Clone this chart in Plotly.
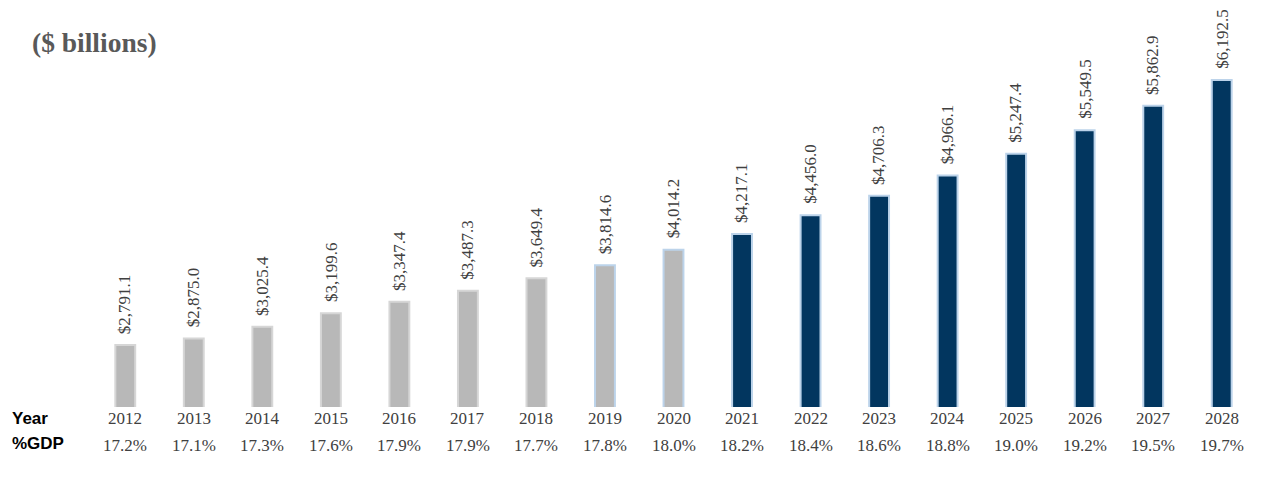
import plotly.graph_objects as go

years = ["2012", "2013", "2014", "2015", "2016", "2017", "2018", "2019", "2020",
         "2021", "2022", "2023", "2024", "2025", "2026", "2027", "2028"]
spending = [2791.1, 2875.0, 3025.4, 3199.6, 3347.4, 3487.3, 3649.4, 3814.6, 4014.2,
            4217.1, 4456.0, 4706.3, 4966.1, 5247.4, 5549.5, 5862.9, 6192.5]
pct_gdp = ["17.2%", "17.1%", "17.3%", "17.6%", "17.9%", "17.9%", "17.7%", "17.8%", "18.0%",
           "18.2%", "18.4%", "18.6%", "18.8%", "19.0%", "19.2%", "19.5%", "19.7%"]
n_actual = 9  # 2012-2020 actual (gray), then projected (navy)

GRAY = "#b8b8b8"
NAVY = "#02365f"
fill = [GRAY if i < n_actual else NAVY for i in range(len(years))]
border = ["#d6d6d6" if i < 7 else "#bcd3ea" for i in range(len(years))]

SERIF = "Liberation Serif, Times New Roman, serif"
TXT = "#404040"

fig = go.Figure()
fig.add_trace(go.Bar(
    x=years, y=spending,
    marker=dict(color=fill, line=dict(color=border, width=2)),
    width=0.29,
    hoverinfo="skip",
))

ann = []
for i, (yr, v, g) in enumerate(zip(years, spending, pct_gdp)):
    ann.append(dict(x=i, y=v, xref="x", yref="y", text=f"${v:,.1f}",
                    textangle=-90, showarrow=False, xanchor="center", yanchor="bottom",
                    yshift=9, font=dict(family=SERIF, size=17, color=TXT)))
    ann.append(dict(x=i, y=0, xref="x", yref="paper", text=yr, showarrow=False,
                    yanchor="middle", yshift=-11, font=dict(family=SERIF, size=17, color=TXT)))
    ann.append(dict(x=i, y=0, xref="x", yref="paper", text=g, showarrow=False,
                    yanchor="middle", yshift=-38, font=dict(family=SERIF, size=17, color=TXT)))

fig.update_layout(
    width=1275, height=490,
    margin=dict(l=91, r=19, t=30, b=83),
    paper_bgcolor="white", plot_bgcolor="white",
    showlegend=False,
    xaxis=dict(type="category", range=[-0.5, 16.5], showticklabels=False, showgrid=False,
               zeroline=False, showline=False, ticks=""),
    yaxis=dict(range=[1995, 6835], visible=False, showgrid=False, zeroline=False),
    annotations=ann,
)

plot_w = 1275 - 91 - 19
plot_h = 490 - 30 - 83
def px_x(px):
    return (px - 91) / plot_w
def px_y(py):
    return (490 - 83 - py) / plot_h

fig.add_annotation(x=px_x(10), y=px_y(418), xref="paper", yref="paper", text="<b>Year</b>",
                   showarrow=False, xanchor="left", yanchor="middle",
                   font=dict(family="Liberation Sans, Arial, sans-serif", size=17, color="black"))
fig.add_annotation(x=px_x(10), y=px_y(443), xref="paper", yref="paper", text="<b>%GDP</b>",
                   showarrow=False, xanchor="left", yanchor="middle",
                   font=dict(family="Liberation Sans, Arial, sans-serif", size=17, color="black"))
fig.add_annotation(x=px_x(30), y=px_y(42), xref="paper", yref="paper", text="<b>($ billions)</b>",
                   showarrow=False, xanchor="left", yanchor="middle",
                   font=dict(family=SERIF, size=27.5, color="#595959"))

fig.write_html("out.html")
